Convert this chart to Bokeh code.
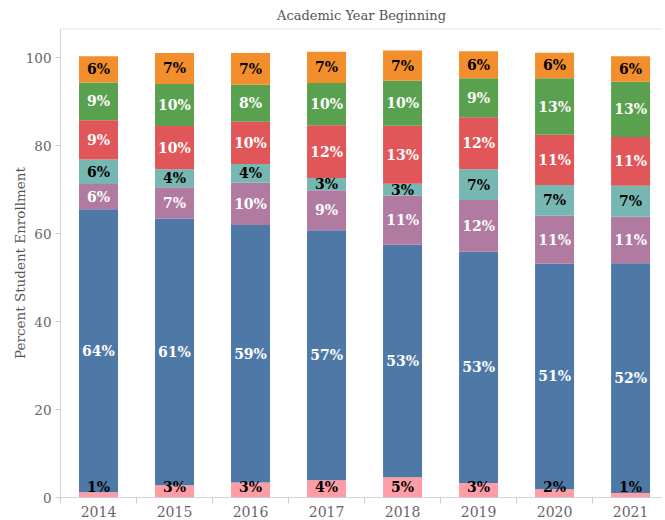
from bokeh.plotting import figure
from bokeh.models import ColumnDataSource, Range1d, FixedTicker, Span
from bokeh.core.properties import value
from bokeh.embed import file_html
from bokeh.resources import INLINE

years = ["2014", "2015", "2016", "2017", "2018", "2019", "2020", "2021"]
pink = [1.2, 2.8, 3.4, 3.9, 4.6, 3.3, 1.9, 1.0]
blue = [64.4, 60.6, 58.6, 56.9, 52.9, 52.6, 51.3, 52.3]
purple = [5.7, 7.2, 9.6, 9.1, 11.2, 11.8, 10.9, 10.6]
teal = [5.6, 4.1, 4.3, 2.8, 2.7, 7.0, 7.0, 7.0]
red = [8.9, 9.8, 9.6, 12.0, 13.2, 11.8, 11.4, 11.1]
green = [8.6, 9.6, 8.4, 9.6, 10.2, 8.9, 12.9, 12.6]
orange = [6.0, 7.0, 7.2, 7.1, 6.9, 6.1, 5.8, 5.8]

series = [pink, blue, purple, teal, red, green, orange]
colors = ["#FF9DA7", "#4E79A7", "#B07AA1", "#76B7B2", "#E15759", "#59A14F", "#F28E2B"]
label_colors = ["black", "white", "white", "black", "white", "white", "black"]
y_ticks = [0, 20, 40, 60, 80, 100]

FONT = "DejaVu Serif"
xs = list(range(len(years)))

p = figure(frame_width=602, frame_height=469, output_backend="svg", toolbar_location=None,
           x_range=Range1d(-0.5, 7.42), y_range=Range1d(0, 106.7),
           min_border_left=0, min_border_right=0, min_border_top=0, min_border_bottom=0,
           margin=(0, 0, 0, 8))
p.outline_line_color = None
p.xgrid.visible = False
p.ygrid.visible = False

p.title.text = "Academic Year Beginning"
p.title.align = "center"
p.title.text_font = FONT
p.title.text_font_style = "normal"
p.title.text_font_size = "13px"
p.title.text_color = "#555555"
p.title.standoff = 11

label_sources = []
bottoms = [0.0] * len(years)
for vals, col, lcol in zip(series, colors, label_colors):
    tops = [b + v for b, v in zip(bottoms, vals)]
    mids = [max((b + t) / 2, 2.4) for b, t in zip(bottoms, tops)]
    labels = [f"{round(v)}%" for v in vals]
    src = ColumnDataSource(dict(x=xs, bottom=bottoms, top=tops, mid=mids, label=labels))
    p.vbar(x="x", bottom="bottom", top="top", width=0.513, source=src,
           fill_color=col, line_color=None)
    label_sources.append((src, lcol))
    bottoms = tops

for src, lcol in label_sources:
    p.text(x="x", y="mid", text="label", source=src, text_align="center",
           text_baseline="middle", text_font=value(FONT), text_font_style="bold",
           text_font_size="14px", text_color=lcol)

p.add_layout(Span(location=106.6, dimension="width", line_color="#d9d9d9", line_width=1))

xa = p.xaxis[0]
xa.ticker = FixedTicker(ticks=xs, minor_ticks=[i - 0.5 for i in range(len(years) + 1)])
xa.major_label_overrides = {i: y for i, y in enumerate(years)}
xa.major_tick_out = 0
xa.major_tick_in = 0
xa.minor_tick_out = 6
xa.minor_tick_in = 0
xa.minor_tick_line_color = "#cccccc"
xa.axis_line_color = "#aaaaaa"
xa.axis_line_dash = "1 1"
xa.major_label_standoff = 2
xa.major_label_text_font = FONT
xa.major_label_text_font_size = "14px"
xa.major_label_text_color = "#666666"

ya = p.yaxis[0]
ya.ticker = FixedTicker(ticks=y_ticks)
ya.major_tick_out = 5
ya.major_tick_in = 0
ya.minor_tick_line_color = None
ya.major_tick_line_color = "#cccccc"
ya.axis_line_color = "#d4d4d4"
ya.major_label_standoff = 4
ya.major_label_text_font = FONT
ya.major_label_text_font_size = "13.5px"
ya.major_label_text_color = "#666666"
ya.axis_label = "Percent Student Enrollment"
ya.axis_label_text_font = FONT
ya.axis_label_text_font_style = "normal"
ya.axis_label_text_font_size = "13.5px"
ya.axis_label_text_color = "#555555"
ya.axis_label_standoff = -5

open("out.html", "w").write(file_html(p, INLINE))
